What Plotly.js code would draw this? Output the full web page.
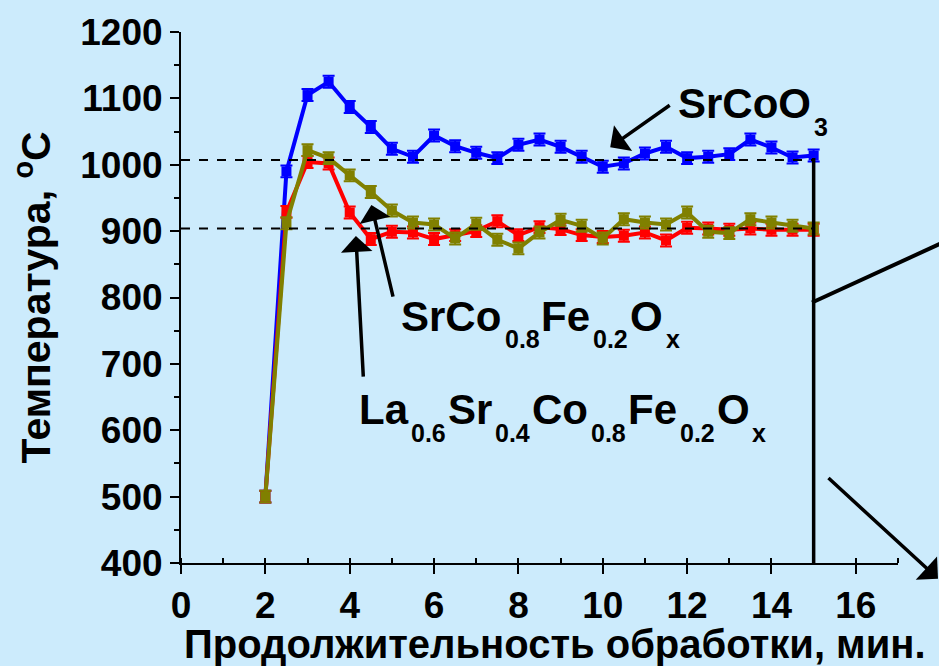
<!DOCTYPE html>
<html>
<head>
<meta charset="utf-8">
<script src="https://cdn.plot.ly/plotly-3.0.1.min.js"></script>
<style>html,body{margin:0;padding:0;background:#CCEBFC;}#chart{width:939px;height:666px;}</style>
</head>
<body>
<div id="chart"></div>
<script>
// Time, minutes
var time = [2, 2.5, 3, 3.5, 4, 4.5, 5, 5.5, 6, 6.5, 7, 7.5, 8, 8.5, 9, 9.5, 10, 10.5, 11, 11.5, 12, 12.5, 13, 13.5, 14, 14.5, 15];
// Temperature, °C
var srCoO3 = [500, 990, 1105, 1125, 1087, 1057, 1024, 1012, 1044, 1028, 1018, 1010, 1030, 1038, 1027, 1012, 997, 1002, 1017, 1027, 1010, 1012, 1016, 1038, 1026, 1011, 1014];
var lscf = [500, 929, 1004, 1002, 928, 888, 899, 898, 888, 894, 900, 915, 894, 906, 903, 894, 891, 893, 898, 886, 905, 904, 902, 904, 902, 902, 902];
var scf = [500, 912, 1022, 1010, 984, 959, 931, 913, 910, 889, 911, 887, 874, 898, 917, 908, 889, 918, 913, 910, 928, 899, 897, 918, 913, 908, 904];
var errVal = 9;
var refLevels = [1007, 904];
var endTime = 15;
var xTicks = [0, 2, 4, 6, 8, 10, 12, 14, 16];
var yTicks = [400, 500, 600, 700, 800, 900, 1000, 1100, 1200];
// Formula labels: [text, isSubscript]
var labelSrCoO3 = [['SrCoO', 0], ['3', 1]];
var labelSCF = [['SrCo', 0], ['0.8', 1], ['Fe', 0], ['0.2', 1], ['O', 0], ['x', 1]];
var labelLSCF = [['La', 0], ['0.6', 1], ['Sr', 0], ['0.4', 1], ['Co', 0], ['0.8', 1], ['Fe', 0], ['0.2', 1], ['O', 0], ['x', 1]];
var xTitle = 'Продолжительность обработки, мин.';
var yTitle = 'Температура, <sup>o</sup>C';

var L = 180.5, R = 898, T = 31.7, B = 563.3;
function px(x) { return (x - L) / (R - L); }
function py(y) { return (B - y) / (B - T); }

function series(y, color) {
  return {
    x: time, y: y, type: 'scatter', mode: 'lines+markers',
    line: {color: color, width: 4},
    marker: {symbol: 'square', size: 10, color: color},
    error_y: {type: 'constant', value: errVal, color: color, thickness: 2, width: 6},
    showlegend: false, cliponaxis: false
  };
}

var data = [series(srCoO3, '#0000FF'), series(lscf, '#FF0000'), series(scf, '#808000')];

var fam = 'Liberation Sans, Arial, sans-serif';
var MAIN = 42, SUB = 25;

var shapes = refLevels.map(function (v) {
  return {type: 'line', xref: 'x', yref: 'y', x0: 0, x1: endTime, y0: v, y1: v,
          line: {color: '#000', width: 2, dash: '9px,9px'}};
});
shapes.push({type: 'line', xref: 'x', yref: 'y', x0: endTime, x1: endTime, y0: 400, y1: refLevels[0] + 3,
             line: {color: '#000', width: 3.5}});
shapes.push({type: 'line', xref: 'paper', yref: 'paper', x0: px(812), y0: py(302.5), x1: px(945), y1: py(241.5),
             line: {color: '#000', width: 4}});

function arrow(hx, hy, tx, ty) {
  return {xref: 'paper', yref: 'paper', x: px(hx), y: py(hy), ax: tx - hx, ay: ty - hy,
          axref: 'pixel', ayref: 'pixel', text: '', showarrow: true,
          arrowhead: 1, arrowsize: 1.5, arrowwidth: 3.5, arrowcolor: '#000', standoff: 0, startstandoff: 0};
}

var ctx = document.createElement('canvas').getContext('2d');
function textW(s, size) { ctx.font = 'bold ' + size + 'px "Liberation Sans", Arial, sans-serif'; return ctx.measureText(s).width; }

// place a formula: left x (px), centre of capitals (px)
function formula(parts, left, capMid) {
  var out = [], x = left;
  parts.forEach(function (p) {
    var sub = p[1] === 1, size = sub ? SUB : MAIN;
    if (sub) x += 3;
    out.push({xref: 'paper', yref: 'paper', x: px(x - 1), y: py(sub ? capMid + 27 : capMid + 4),
              xanchor: 'left', yanchor: 'middle', showarrow: false, text: p[0],
              font: {family: fam, size: size, color: '#000', weight: 'bold'}});
    x += textW(p[0], size) + (sub ? 2 : 0);
  });
  return out;
}

var annotations = [].concat(
  formula(labelSrCoO3, 677, 99.5),
  formula(labelSCF, 400, 312.5),
  formula(labelLSCF, 358, 406),
  [arrow(610, 147, 671, 104),
   arrow(371, 205, 393, 298),
   arrow(355.5, 236, 363, 378),
   arrow(944, 579, 827, 477),
   {xref: 'paper', yref: 'paper', x: px(555), y: py(644), xanchor: 'center', yanchor: 'middle', showarrow: false,
    text: xTitle, font: {family: fam, size: 40, color: '#000', weight: 'bold'}}]
);

var layout = {
  width: 939, height: 666,
  margin: {l: L, r: 939 - R, t: T, b: 666 - B, pad: 0},
  paper_bgcolor: '#CCEBFC', plot_bgcolor: '#CCEBFC',
  font: {family: fam, color: '#000'},
  xaxis: {
    range: [0, 17], tickvals: xTicks, ticktext: xTicks.map(String),
    showline: true, linecolor: '#000', linewidth: 2, showgrid: false, zeroline: false,
    ticks: 'outside', ticklen: 9, tickwidth: 2, tickcolor: '#000',
    minor: {dtick: 1, ticks: 'inside', ticklen: 5, tickwidth: 2, tickcolor: '#000', showgrid: false},
    tickfont: {family: fam, size: 37, weight: 'bold'}
  },
  yaxis: {
    range: [400, 1200], tickvals: yTicks, ticktext: yTicks.map(String),
    showline: true, linecolor: '#000', linewidth: 2, showgrid: false, zeroline: false,
    ticks: 'outside', ticklen: 9, tickwidth: 2, tickcolor: '#000',
    minor: {dtick: 50, ticks: 'outside', ticklen: 5, tickwidth: 2, tickcolor: '#000', showgrid: false},
    tickfont: {family: fam, size: 37, weight: 'bold'},
    title: {text: yTitle, font: {family: fam, size: 41, weight: 'bold'}, standoff: 17}
  },
  shapes: shapes,
  annotations: annotations
};

Plotly.newPlot('chart', data, layout, {displayModeBar: false, staticPlot: true});
</script>
</body>
</html>
